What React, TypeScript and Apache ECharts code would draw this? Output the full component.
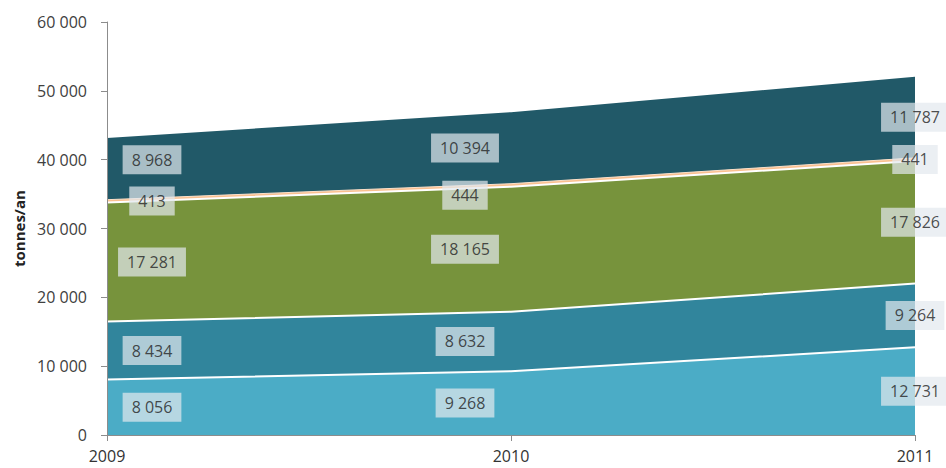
import React, { useEffect, useRef } from "react";
import * as echarts from "echarts";

const categories = ["2009", "2010", "2011"];
const seriesNames = ["Série 1", "Série 2", "Série 3", "Série 4", "Série 5"];
const s1 = [8056, 9268, 12731];
const s2 = [8434, 8632, 9264];
const s3 = [17281, 18165, 17826];
const s4 = [413, 444, 441];
const s5 = [8968, 10394, 11787];
const yTicks = [0, 10000, 20000, 30000, 40000, 50000, 60000];

const allSeries = [s1, s2, s3, s4, s5];
const colors = ["#4bacc6", "#31859c", "#77933c", "#fac090", "#215968"];
const lineColors = ["#ffffff", "#ffffff", "#ffffff", "#fde0c8", "rgba(0,0,0,0)"];
const xOffsets = [45, -46, 0];
const extraY: Record<string, number> = { "4-0": -9, "3-1": 10 };

const fmt = (v: number) => {
  const s = String(Math.round(v));
  return s.replace(/\B(?=(\d{3})+(?!\d))/g, " ");
};

export default function App() {
  const ref = useRef<HTMLDivElement>(null);
  useEffect(() => {
    if (!ref.current) return;
    const chart = echarts.init(ref.current, undefined, { renderer: "svg" });
    const font = "'Open Sans', 'Noto Sans', sans-serif";

    const areaSeries = allSeries.map((d, i) => ({
      name: seriesNames[i],
      type: "line",
      stack: "total",
      data: d,
      symbol: "none",
      itemStyle: { color: colors[i] },
      areaStyle: { color: colors[i], opacity: 1 },
      lineStyle: { color: lineColors[i], width: i === 3 ? 1 : 2 },
      z: 2,
    }));

    const labelSeries = allSeries.map((d, i) => ({
      name: seriesNames[i] + " labels",
      type: "scatter",
      symbolSize: 1,
      itemStyle: { color: "rgba(0,0,0,0)" },
      z: 5,
      silent: true,
      data: d.map((v, j) => {
        let base = 0;
        for (let k = 0; k < i; k++) base += allSeries[k][j];
        return {
          value: [j, base + v / 2, v],
          label: {
            offset: [xOffsets[j], extraY[`${i}-${j}`] || 0],
          },
        };
      }),
      label: {
        show: true,
        position: "inside",
        formatter: (p: any) => fmt(p.value[2]),
        backgroundColor: "rgba(226,233,238,0.88)",
        color: "#222222",
        fontSize: 16,
        fontFamily: font,
        padding: [7, 9, 6, 9],
      },
    }));

    chart.setOption({
      animation: false,
      backgroundColor: "#ffffff",
      grid: { left: 107, right: 31, top: 22, bottom: 33, containLabel: false },
      xAxis: {
        type: "category",
        data: categories,
        boundaryGap: false,
        axisLine: { lineStyle: { color: "#8c8c8c", width: 1 } },
        axisTick: { show: true, length: 6, lineStyle: { color: "#8c8c8c" } },
        axisLabel: { color: "#333333", fontSize: 16, fontFamily: font, margin: 13 },
        splitLine: { show: false },
        z: 10,
      },
      yAxis: {
        type: "value",
        min: yTicks[0],
        max: yTicks[yTicks.length - 1],
        interval: 10000,
        name: "tonnes/an",
        nameLocation: "middle",
        nameGap: 76,
        nameTextStyle: { fontWeight: "bold", fontSize: 15, color: "#222", fontFamily: font },
        axisLine: { show: true, lineStyle: { color: "#8c8c8c", width: 1 } },
        axisTick: { show: true, length: 6, lineStyle: { color: "#8c8c8c" } },
        axisLabel: {
          color: "#404040",
          fontSize: 16,
          fontFamily: font,
          margin: 20,
          formatter: (v: number) => fmt(v),
        },
        splitLine: { show: false },
        z: 10,
      },
      series: [...areaSeries, ...labelSeries],
    });
    return () => chart.dispose();
  }, []);
  return (
    <div
      ref={ref}
      style={{ position: "fixed", left: 0, top: 0, width: 946, height: 468, background: "#fff" }}
    />
  );
}
